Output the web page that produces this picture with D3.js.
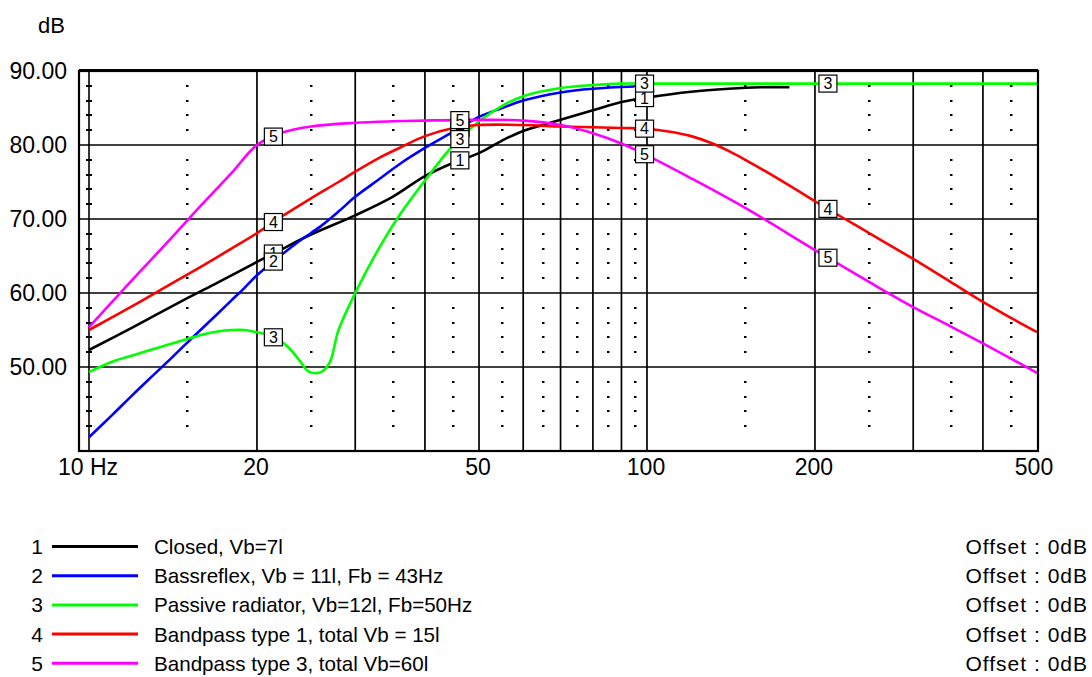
<!DOCTYPE html>
<html><head><meta charset="utf-8">
<script src="https://cdn.jsdelivr.net/npm/d3@7"></script>
<style>
html,body{margin:0;padding:0;background:#fff;}
svg{display:block;font-family:"Liberation Sans",Arial,sans-serif;}
</style></head><body>
<svg id="chart" width="1092" height="677"></svg>
<script>
// Frequency response of five enclosure types (SPL in dB vs frequency in Hz)
const freqClosed = [10,12,15,17,20,22,25,30,35,40,45,50,55,60,70,80,90,100,120,140,160,180];
const dbClosed   = [52.3,55.4,59.3,61.4,64.2,65.8,67.9,70.5,73.0,75.8,77.6,78.9,80.6,81.9,83.4,84.7,85.8,86.4,87.2,87.6,87.8,87.8];

const freqReflex = [10,11,12,13,14,15,16,17,18,19,20,22,24,26,28,30,33,36,40,45,50,55,60,70,80,95];
const dbReflex   = [40.5,43.5,46.3,48.8,51.1,53.3,55.3,57.2,59.0,60.7,62.4,65.0,67.2,69.0,71.0,73.0,75.3,77.4,79.6,81.8,83.8,85.0,86.0,87.1,87.6,87.9];

const freqPassive = [10,11,12,13,14,15,16,17,18,19,20,21,22,23,24,24.7,26,27,28,30,33,36,40,45,50,55,60,70,80,90,100,200,500];
const dbPassive   = [49.3,50.7,51.6,52.4,53.1,53.8,54.4,54.8,55.0,55.0,54.7,54.3,53.6,52.3,50.6,49.4,49.3,50.6,55.0,60.0,65.9,70.5,75.2,80.0,83.2,85.3,86.6,87.7,88.1,88.3,88.3,88.3,88.3];

const freqBand1 = [10,12,14,16,18,20,22,25,28,30,33,36,40,45,50,60,70,80,90,100,110,120,130,140,150,175,200,250,300,350,400,450,500];
const dbBand1   = [55.0,58.3,61.2,63.7,66.0,68.1,70.2,72.8,75.0,76.4,78.2,79.6,81.2,82.3,82.7,82.7,82.5,82.4,82.3,82.2,81.8,81.2,80.3,79.2,78.0,75.1,72.4,68.1,64.6,61.5,58.8,56.6,54.7];

const freqBand3 = [10,12,14,16,18,20,22,25,30,35,40,50,60,70,80,90,100,120,150,200,250,300,350,400,450,500];
const dbBand3   = [55.4,61.9,67.3,72.1,76.2,80.0,81.6,82.5,83.0,83.2,83.3,83.4,83.3,82.7,81.6,80.2,78.6,75.5,71.5,65.8,61.5,58.1,55.5,53.2,51.1,49.2];

const seriesIds    = [1,2,3,4,5];
const seriesNames  = ["Closed, Vb=7l","Bassreflex, Vb = 11l, Fb = 43Hz","Passive radiator, Vb=12l, Fb=50Hz","Bandpass type 1, total Vb = 15l","Bandpass type 3, total Vb=60l"];
const seriesColors = ["#000000","#0000ff","#00ff00","#ff0000","#ff00ff"];
const seriesOffsets = ["Offset : 0dB","Offset : 0dB","Offset : 0dB","Offset : 0dB","Offset : 0dB"];

const yTicks = [90,80,70,60,50];
const yGrid = [50,60,70,80];
const xLabels = [[10,"10 Hz"],[20,"20"],[50,"50"],[100,"100"],[200,"200"],[500,"500"]];
const xGrid = [20,30,40,50,60,70,80,90,100,200,300,400];
const xDotted = [15,25,35,45,55,65,75,85,95,150,250,350,450];
const dotLevels = [42,44,46,48,52,54,56,58,62,64,66,68,72,74,76,78,82,84,86,88];
const markerFreqs = [21.4,46.2,99,211];
const markerOrder = [1,2,4,3,5];

const series = [
  {f:freqClosed, v:dbClosed},
  {f:freqReflex, v:dbReflex},
  {f:freqPassive, v:dbPassive},
  {f:freqBand1, v:dbBand1},
  {f:freqBand3, v:dbBand3}
].map((s,i)=>({id:seriesIds[i], name:seriesNames[i], color:seriesColors[i], offset:seriesOffsets[i],
  pts:s.f.map((f,j)=>({f, v:s.v[j]}))}));

const svg = d3.select("#chart");
const plotL = 79, plotR = 1038, plotT = 71, plotB = 451;
const x = d3.scaleLog().domain([10,500]).range([89,1037]);
const y = d3.scaleLinear().domain([38.65,90]).range([plotB,plotT]);

svg.append("defs").append("clipPath").attr("id","plotClip")
  .append("rect").attr("x",plotL).attr("y",plotT).attr("width",plotR-plotL).attr("height",plotB-plotT);

const grid = svg.append("g");
// dotted half-step columns
xDotted.forEach(f=>{
  grid.selectAll(null).data(dotLevels).enter().append("rect")
    .attr("x",Math.round(x(f))-1).attr("y",d=>Math.round(y(d))-1)
    .attr("width",2.5).attr("height",2).attr("fill","#000");
});
// 10 Hz reference line with 2 dB ticks
grid.append("line").attr("x1",x(10)).attr("x2",x(10)).attr("y1",plotT).attr("y2",plotB)
  .attr("stroke","#000").attr("stroke-width",1.6);
grid.selectAll(null).data(dotLevels).enter().append("rect")
  .attr("x",Math.round(x(10))-3).attr("y",d=>Math.round(y(d))-1)
  .attr("width",6).attr("height",2).attr("fill","#000");
// solid grid
grid.selectAll(null).data(xGrid).enter().append("line")
  .attr("x1",d=>x(d)).attr("x2",d=>x(d)).attr("y1",plotT).attr("y2",plotB)
  .attr("stroke","#000").attr("stroke-width",1.7);
grid.selectAll(null).data(yGrid).enter().append("line")
  .attr("x1",plotL).attr("x2",plotR).attr("y1",d=>y(d)).attr("y2",d=>y(d))
  .attr("stroke","#000").attr("stroke-width",1.7);

// curves
const line = d3.line().x(d=>x(d.f)).y(d=>y(d.v)).curve(d3.curveCatmullRom.alpha(0.5));
const curves = svg.append("g").attr("clip-path","url(#plotClip)");
series.forEach(s=>{
  curves.append("path").datum(s.pts).attr("d",line)
    .attr("fill","none").attr("stroke",s.color).attr("stroke-width",2.6)
    .attr("stroke-linejoin","round");
});

// frame
svg.append("rect").attr("x",plotL).attr("y",plotT).attr("width",plotR-plotL).attr("height",plotB-plotT)
  .attr("fill","none").attr("stroke","#000").attr("stroke-width",2.2);
svg.append("line").attr("x1",plotL).attr("x2",plotR).attr("y1",plotT-0.5).attr("y2",plotT-0.5)
  .attr("stroke","#000").attr("stroke-width",2.8);

// curve value at a frequency (log-linear between points)
function valueAt(pts,f){
  if(f<pts[0].f||f>pts[pts.length-1].f) return null;
  for(let i=1;i<pts.length;i++){
    if(f<=pts[i].f){
      const a=pts[i-1], b=pts[i];
      const t=(Math.log(f)-Math.log(a.f))/(Math.log(b.f)-Math.log(a.f));
      return a.v+(b.v-a.v)*t;
    }
  }
  return null;
}

// numbered markers
const markers = svg.append("g");
markerOrder.forEach(id=>{
  const s = series.find(d=>d.id===id);
  markerFreqs.forEach(f=>{
    const v = valueAt(s.pts,f);
    if(v===null) return;
    const cx = x(f), cy = y(v);
    const g = markers.append("g").attr("transform",`translate(${cx},${cy})`);
    g.append("rect").attr("x",-9).attr("y",-8.5).attr("width",18).attr("height",17)
      .attr("fill","#fff").attr("stroke","#000").attr("stroke-width",1.2);
    g.append("text").attr("text-anchor","middle").attr("dy","0.36em")
      .attr("font-size",16).attr("fill","#000").text(s.id);
  });
});

// axis labels
svg.append("text").attr("x",38).attr("y",25).attr("dy","0.36em").attr("font-size",22).text("dB");
svg.selectAll(null).data(yTicks).enter().append("text")
  .attr("x",67).attr("y",d=>y(d)).attr("dy","0.36em").attr("text-anchor","end")
  .attr("font-size",23).text(d=>d.toFixed(2));
svg.selectAll(null).data(xLabels).enter().append("text")
  .attr("x",d=>d[0]===500?1034:x(d[0])-1).attr("y",467).attr("dy","0.36em").attr("text-anchor","middle")
  .attr("font-size",23).text(d=>d[1]);

// legend
const leg = svg.append("g");
series.forEach((s,i)=>{
  const ly = 546.5 + i*29.2;
  leg.append("text").attr("x",43).attr("y",ly).attr("dy","0.36em").attr("text-anchor","end")
    .attr("font-size",21).text(s.id);
  leg.append("line").attr("x1",52).attr("x2",138).attr("y1",ly).attr("y2",ly)
    .attr("stroke",s.color).attr("stroke-width",3);
  leg.append("text").attr("x",154).attr("y",ly).attr("dy","0.36em")
    .attr("font-size",20.6).text(s.name);
  leg.append("text").attr("x",1088).attr("y",ly).attr("dy","0.36em").attr("text-anchor","end")
    .attr("font-size",21).attr("letter-spacing",1).text(s.offset);
});
</script></body></html>
